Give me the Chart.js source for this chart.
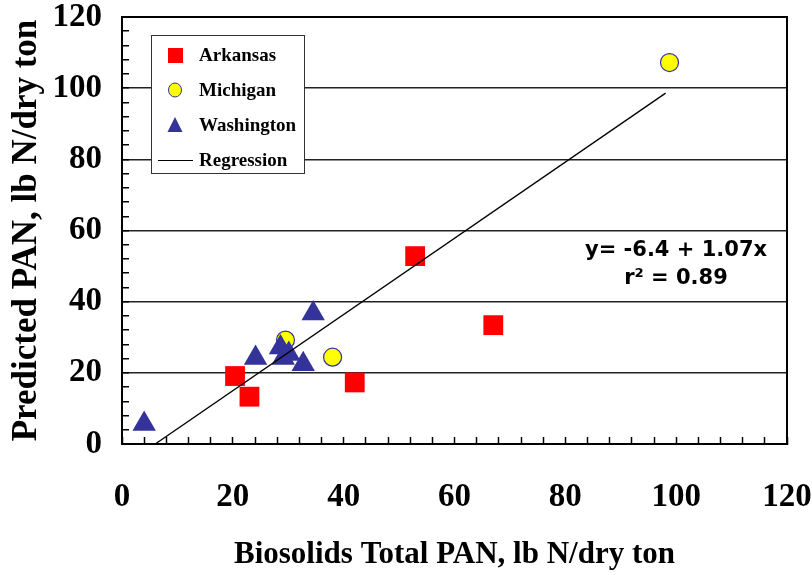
<!DOCTYPE html>
<html lang="en">
<head>
    <meta charset="UTF-8">
    <title>Predicted vs Biosolids Total PAN</title>
    <script src="https://cdn.jsdelivr.net/npm/chart.js"></script>
    <style>
        html, body { margin: 0; padding: 0; background: #fff; }
        #wrap { width: 812px; height: 575px; }
    </style>
</head>
<body>
    <div id="wrap"><canvas id="panChart" width="812" height="575"></canvas></div>

    <script>
        // Data
        const arkansasX = [20.4, 23.0, 42.0, 52.9, 67.0];
        const arkansasY = [19.1, 13.3, 17.3, 52.8, 33.4];

        const michiganX = [29.5, 38.0, 98.8];
        const michiganY = [29.2, 24.4, 107.2];

        const washingtonX = [4.0, 24.1, 28.6, 29.1, 30.1, 32.7, 34.5];
        const washingtonY = [5.6, 24.2, 27.1, 24.2, 25.3, 22.4, 36.7];

        // regression line end points (y = -6.4 + 1.07x)
        const regressionX = [6.0, 98.1];
        const regressionY = [0.0, 98.6];

        const axisTicks = [0, 20, 40, 60, 80, 100, 120];
        const equationLines = ['y= -6.4 + 1.07x', 'r\u00B2 = 0.89'];

        function toPoints(xs, ys) {
            return xs.map((x, i) => ({ x: x, y: ys[i] }));
        }

        const navy = '#333399';
        const serif = 'Liberation Serif';

        // keep the plot area where it is in the original (no auto padding for edge labels)
        function noEdgePadding(scale) {
            scale.paddingTop = 0;
            scale.paddingBottom = 0;
            scale.paddingLeft = 0;
            scale.paddingRight = 0;
        }

        // frame round the plot area (top and right side)
        const framePlugin = {
            id: 'frame',
            beforeDatasetsDraw(chart) {
                const a = chart.chartArea;
                const ctx = chart.ctx;
                ctx.save();
                ctx.strokeStyle = '#000';
                ctx.lineWidth = 2;
                ctx.strokeRect(a.left, a.top, a.right - a.left, a.bottom - a.top);
                ctx.restore();
            }
        };

        // legend box drawn inside the plot, plus the equation text
        const legendPlugin = {
            id: 'insideLegend',
            afterDraw(chart) {
                const ctx = chart.ctx;
                ctx.save();
                ctx.fillStyle = '#fff';
                ctx.fillRect(151, 35, 153, 138);
                ctx.strokeStyle = '#333';
                ctx.lineWidth = 1;
                ctx.strokeRect(151.5, 35.5, 153, 138);

                const rows = [55, 90, 125, 160];
                const mx = 175;
                ctx.font = 'bold 19px "' + serif + '"';
                ctx.textBaseline = 'middle';
                ctx.textAlign = 'left';

                // Arkansas
                ctx.fillStyle = '#ff0000';
                ctx.fillRect(mx - 7, rows[0] - 7, 15, 15);
                // Michigan
                ctx.beginPath();
                ctx.ellipse(mx, rows[1], 6.5, 7, 0, 0, Math.PI * 2);
                ctx.fillStyle = '#ffff00';
                ctx.fill();
                ctx.strokeStyle = navy;
                ctx.stroke();
                // Washington
                ctx.beginPath();
                ctx.moveTo(mx, rows[2] - 8);
                ctx.lineTo(mx + 7.5, rows[2] + 7);
                ctx.lineTo(mx - 7.5, rows[2] + 7);
                ctx.closePath();
                ctx.fillStyle = navy;
                ctx.fill();
                // Regression
                ctx.beginPath();
                ctx.moveTo(158, rows[3] + 0.5);
                ctx.lineTo(193, rows[3] + 0.5);
                ctx.strokeStyle = '#000';
                ctx.lineWidth = 1.2;
                ctx.stroke();

                ctx.fillStyle = '#000';
                chart.data.datasets.forEach((ds, i) => {
                    ctx.fillText(ds.label, 199, rows[i] + 1);
                });

                // regression equation
                ctx.font = 'bold 21px "DejaVu Sans"';
                ctx.textAlign = 'center';
                ctx.fillText(equationLines[0], 676, 251);
                ctx.fillText(equationLines[1], 676, 279);
                ctx.restore();
            }
        };

        const tickFont = { family: serif, size: 33, weight: 'bold' };

        new Chart(document.getElementById('panChart').getContext('2d'), {
            type: 'scatter',
            data: {
                datasets: [
                    {
                        label: 'Arkansas',
                        data: toPoints(arkansasX, arkansasY),
                        pointStyle: 'rect',
                        pointRadius: 14,
                        backgroundColor: '#ff0000',
                        borderColor: '#ff0000',
                        borderWidth: 0,
                        order: 2
                    },
                    {
                        label: 'Michigan',
                        data: toPoints(michiganX, michiganY),
                        pointStyle: 'circle',
                        pointRadius: 9,
                        backgroundColor: '#ffff00',
                        borderColor: navy,
                        borderWidth: 1.2,
                        order: 3
                    },
                    {
                        label: 'Washington',
                        data: toPoints(washingtonX, washingtonY),
                        pointStyle: 'triangle',
                        pointRadius: 13.5,
                        backgroundColor: navy,
                        borderColor: navy,
                        borderWidth: 0,
                        order: 1
                    },
                    {
                        label: 'Regression',
                        type: 'line',
                        data: toPoints(regressionX, regressionY),
                        showLine: true,
                        pointRadius: 0,
                        borderColor: '#000',
                        borderWidth: 1.3,
                        fill: false,
                        order: 0
                    }
                ]
            },
            options: {
                responsive: false,
                animation: false,
                events: [],
                layout: {
                    padding: { top: 17, right: 25, left: 0, bottom: 0 }
                },
                plugins: {
                    legend: { display: false },
                    tooltip: { enabled: false }
                },
                scales: {
                    x: {
                        type: 'linear',
                        min: 0,
                        max: 120,
                        afterFit(scale) { scale.height = 131; noEdgePadding(scale); },
                        border: { display: true, color: '#000', width: 2 },
                        grid: {
                            drawOnChartArea: false,
                            tickLength: -7,
                            tickColor: '#000',
                            tickWidth: 1.5
                        },
                        ticks: {
                            stepSize: 4,
                            autoSkip: false,
                            maxRotation: 0,
                            padding: 41,
                            color: '#000',
                            font: tickFont,
                            callback: v => axisTicks.includes(v) ? v : ''
                        },
                        title: {
                            display: true,
                            text: 'Biosolids Total PAN, lb N/dry ton',
                            color: '#000',
                            font: { family: serif, size: 31, weight: 'bold' },
                            padding: { top: 0, bottom: 1 }
                        }
                    },
                    y: {
                        type: 'linear',
                        min: 0,
                        max: 120,
                        afterFit(scale) { scale.width = 122; noEdgePadding(scale); },
                        border: { display: true, color: '#000', width: 2 },
                        grid: {
                            drawOnChartArea: true,
                            tickLength: -7,
                            tickColor: '#000',
                            tickWidth: 1.5,
                            lineWidth: 1.5,
                            color: c => (c.tick && c.tick.value % 20 === 0) ? '#222' : 'rgba(0,0,0,0)'
                        },
                        ticks: {
                            stepSize: 4,
                            autoSkip: false,
                            padding: 27,
                            color: '#000',
                            font: tickFont,
                            callback: v => axisTicks.includes(v) ? v : ''
                        },
                        title: {
                            display: true,
                            text: 'Predicted PAN, lb N/dry ton',
                            color: '#000',
                            font: { family: serif, size: 35, weight: 'bold' },
                            padding: { top: 6, bottom: 0 }
                        }
                    }
                }
            },
            plugins: [framePlugin, legendPlugin]
        });
    </script>
</body>
</html>
